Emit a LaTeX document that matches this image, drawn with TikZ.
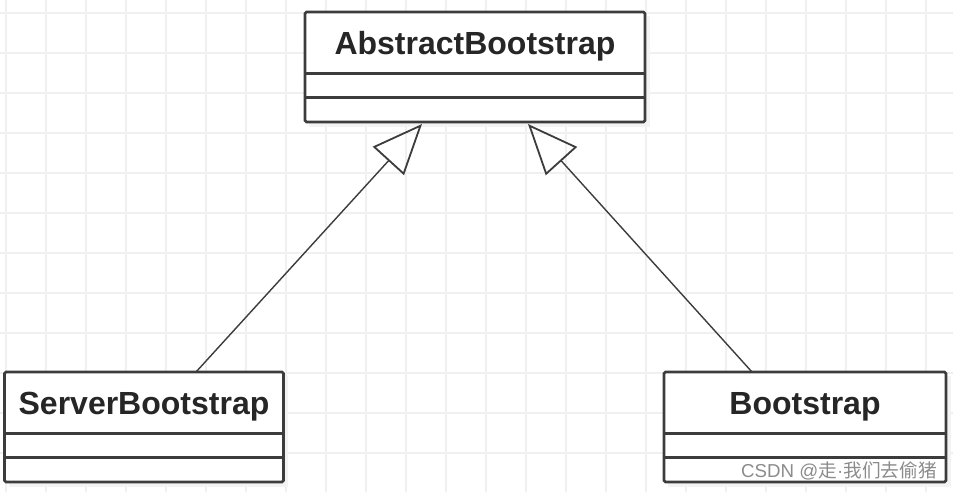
\documentclass[tikz,border=0pt]{standalone}
\usepackage{fontspec}
\setmainfont{Liberation Sans}
\newfontfamily\cjkfont{Noto Sans CJK SC}
\usetikzlibrary{arrows.meta,calc}
\definecolor{gridc}{HTML}{F0F0F0}
\definecolor{linec}{HTML}{3C3C3C}
\definecolor{shadc}{HTML}{F3F3F3}
\tikzset{
  classbox/.style={draw=linec, line width=2.8pt, fill=white, rounded corners=1.5pt, inner sep=0pt},
  classname/.style={anchor=base, inner sep=0pt, font=\fontsize{32}{36}\selectfont\bfseries, text=black!85},
  divider/.style={draw=linec, line width=2.8pt},
  inherit/.style={draw=linec, line width=1.4pt, -{Triangle[open, length=50pt, width=42pt, line width=1.8pt]}},
}
\begin{document}
\begin{tikzpicture}[x=1pt, y=-1pt]
\useasboundingbox (0,0) rectangle (953,492);
\fill[white] (0,0) rectangle (953,492);
% grid
\foreach \gx in {6,46,...,953} \draw[gridc, line width=2pt] (\gx,0) -- (\gx,492);
\foreach \gy in {13,53,...,492} \draw[gridc, line width=2pt] (0,\gy) -- (953,\gy);
% shadows
\fill[shadc] (309,16) rectangle (650,127);
\fill[shadc] (9,376) rectangle (288,487);
\fill[shadc] (668,376) rectangle (951,487);
% boxes
\node[classbox, minimum width=340pt, minimum height=110pt] (A) at (475,67) {};
\node[classbox, minimum width=279pt, minimum height=110pt] (S) at (144,427) {};
\node[classbox, minimum width=282pt, minimum height=110pt] (B) at (805,427) {};
% dividers
\draw[divider] ($(A.north west)+(0,63)$) -- ($(A.north east)+(0,63)$);
\draw[divider] ($(A.north west)+(0,87)$) -- ($(A.north east)+(0,87)$);
\draw[divider] ($(S.north west)+(0,63)$) -- ($(S.north east)+(0,63)$);
\draw[divider] ($(S.north west)+(0,87)$) -- ($(S.north east)+(0,87)$);
\draw[divider] ($(B.north west)+(0,63)$) -- ($(B.north east)+(0,63)$);
\draw[divider] ($(B.north west)+(0,87)$) -- ($(B.north east)+(0,87)$);
% names
\node[classname] (At) at (475,55) {AbstractBootstrap};
\node[classname] (St) at (144,414) {ServerBootstrap};
\node[classname] (Bt) at (805,414) {Bootstrap};
% connectors
\coordinate (s1) at (196,372);
\coordinate (a1) at (422,124);
\coordinate (b1) at (752,372);
\coordinate (a2) at (528,124);
\draw[inherit] (s1) -- (a1);
\draw[inherit] (b1) -- (a2);
% watermark
\node[anchor=base east, inner sep=0pt, text=black!45, font=\fontsize{18.7}{22}\selectfont] (wm) at (937,477) {CSDN @{\cjkfont 走}·{\cjkfont 我们去偷猪}};
\end{tikzpicture}
\end{document}
